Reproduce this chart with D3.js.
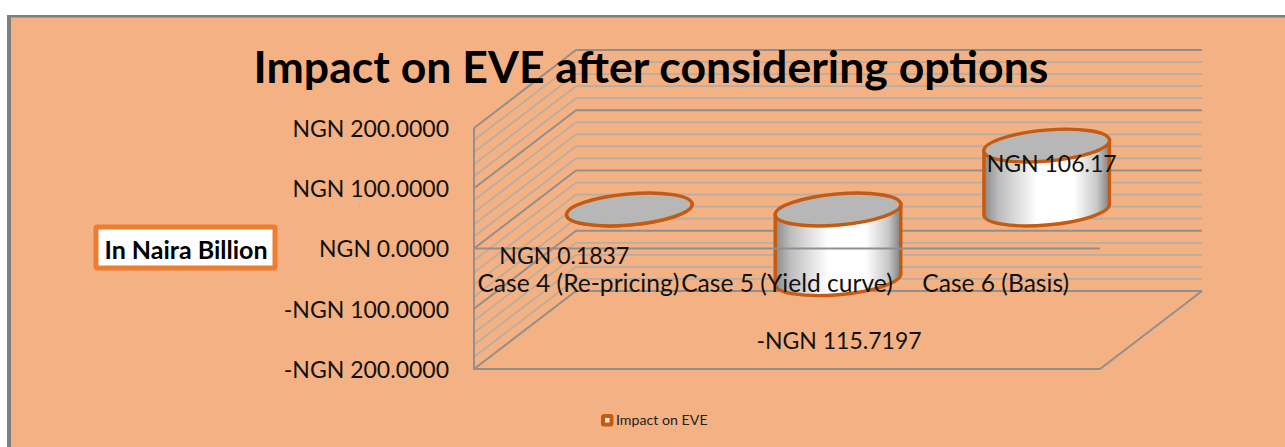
<!DOCTYPE html>
<html>
<head>
<meta charset="utf-8">
<script src="https://cdn.jsdelivr.net/npm/d3@7"></script>
<style>
  html, body { margin: 0; padding: 0; background: #fff; }
  svg { display: block; font-family: Lato, sans-serif; }
  .value-label, .y-axis text { font-size: 23px; fill: #111; font-family: Lato, sans-serif; }
  .x-axis text { font-size: 24.6px; fill: #111; font-family: Lato, sans-serif; }
  .y-axis path, .y-axis line, .x-axis path, .x-axis line { display: none; }
</style>
</head>
<body>
<div id="chart"></div>
<script>
const categories = ["Case 4 (Re-pricing)", "Case 5 (Yield curve)", "Case 6 (Basis)"];
const impactValues = [0.1837, -115.7197, 106.17];
const valueLabels = ["NGN 0.1837", "-NGN 115.7197", "NGN 106.17"];
const yTicks = [200, 100, 0, -100, -200];
const yTickLabels = ["NGN 200.0000", "NGN 100.0000", "NGN 0.0000", "-NGN 100.0000", "-NGN 200.0000"];

const width = 1285;
const height = 447;

// the 3d box: front plane plus a fixed shift to the back wall
const plot = { left: 474, right: 1100, top: 128, bottom: 369 };
const depth = { x: 102, y: -78 };
// hand placed data labels, relative to band centre and zero line
const labelShift = [{ dx: -14, dy: 8 }, { dx: 52, dy: 93 }, { dx: 56, dy: -84 }];

const x = d3.scaleBand().domain(categories).range([plot.left, plot.right]);
const y = d3.scaleLinear().domain([-200, 200]).range([plot.bottom, plot.top]);

const svg = d3.select("#chart").append("svg")
  .attr("width", width)
  .attr("height", height);

svg.append("rect")
  .attr("x", 7).attr("y", 15)
  .attr("width", width).attr("height", height)
  .attr("fill", "#7f7f7f");

svg.append("rect")
  .attr("x", 11).attr("y", 17.5)
  .attr("width", width).attr("height", height)
  .attr("fill", "#f4b183");

const defs = svg.append("defs");
const grad = defs.append("linearGradient").attr("id", "cylSide");
[[0, "#8a8a8a"], [0.12, "#bdbdbd"], [0.42, "#ffffff"], [0.72, "#ffffff"], [0.9, "#c8c8c8"], [1, "#808080"]]
  .forEach(([o, c]) => grad.append("stop").attr("offset", o).attr("stop-color", c));

// gridlines on the left wall and back wall
const gridValues = d3.range(-200, 201, 20);
svg.append("g").selectAll("polyline")
  .data(gridValues)
  .join("polyline")
  .attr("fill", "none")
  .attr("stroke", (d) => d % 100 === 0 ? "#8f8f8f" : "#b8ada2")
  .attr("stroke-width", (d) => d % 100 === 0 ? 1.9 : 1.7)
  .attr("points", (d) => {
    const py = y(d);
    return `${plot.left},${py} ${plot.left + depth.x},${py + depth.y} ${plot.right + depth.x},${py + depth.y}`;
  });

// wall edge and floor
svg.append("path")
  .attr("fill", "none")
  .attr("stroke", "#8f8f8f")
  .attr("stroke-width", 1.9)
  .attr("d", `M${plot.left},${plot.top}V${plot.bottom}H${plot.right}L${plot.right + depth.x},${plot.bottom + depth.y}`);

// cylinders sit half way into the box
const rx = 63;
const ry = 15.5;
const tilt = -5;
const rad = tilt * Math.PI / 180;
const halfW = Math.sqrt(rx * rx * Math.cos(rad) ** 2 + ry * ry * Math.sin(rad) ** 2);
const edgeDy = (rx * rx - ry * ry) * Math.sin(rad) * Math.cos(rad) / halfW;

const bars = categories.map((c, i) => ({
  name: c,
  value: impactValues[i],
  cx: x(c) + x.bandwidth() / 2 + depth.x / 2,
  base: y(0) + depth.y / 2,
  end: y(impactValues[i]) + depth.y / 2
}));

const cyl = svg.append("g").selectAll("g").data(bars).join("g");
const topY = (d) => Math.min(d.base, d.end);
const botY = (d) => Math.max(d.base, d.end);

cyl.append("path")
  .attr("fill", "url(#cylSide)")
  .attr("stroke", "#c55a11")
  .attr("stroke-width", 3.4)
  .attr("d", (d) => {
    const l = d.cx - halfW, r = d.cx + halfW;
    return `M${l},${topY(d) - edgeDy}L${l},${botY(d) - edgeDy}` +
      `A${rx},${ry} ${tilt} 0 0 ${r},${botY(d) + edgeDy}` +
      `L${r},${topY(d) + edgeDy}Z`;
  });

cyl.append("ellipse")
  .attr("rx", rx)
  .attr("ry", ry)
  .attr("transform", (d) => `translate(${d.cx},${topY(d)}) rotate(${tilt})`)
  .attr("fill", "#b7b7b7")
  .attr("stroke", "#c55a11")
  .attr("stroke-width", 3.4);

// zero line runs in front of the cylinders
svg.append("line")
  .attr("x1", plot.left).attr("x2", plot.right)
  .attr("y1", y(0)).attr("y2", y(0))
  .attr("stroke", "#8f8f8f")
  .attr("stroke-width", 1.9);

svg.append("g")
  .attr("class", "y-axis")
  .attr("transform", `translate(${plot.left - 22},1)`)
  .call(d3.axisLeft(y).tickValues(yTicks).tickSize(0)
    .tickFormat((d, i) => yTickLabels[i]));

svg.append("g")
  .attr("class", "x-axis")
  .attr("transform", `translate(0,${y(0)})`)
  .call(d3.axisBottom(x).tickSize(0).tickPadding(26));

svg.append("g").selectAll("text")
  .data(bars)
  .join("text")
  .attr("class", "value-label")
  .attr("x", (d, i) => x(d.name) + x.bandwidth() / 2 + labelShift[i].dx)
  .attr("y", (d, i) => y(0) + labelShift[i].dy)
  .attr("dy", "0.32em")
  .attr("text-anchor", "middle")
  .text((d, i) => valueLabels[i]);

svg.append("text")
  .attr("x", 651)
  .attr("y", 83)
  .attr("text-anchor", "middle")
  .attr("font-size", 44.6)
  .attr("font-weight", 700)
  .attr("fill", "#000")
  .text("Impact on EVE after considering options");

// axis title box
svg.append("rect")
  .attr("x", 96).attr("y", 227)
  .attr("width", 179).attr("height", 41)
  .attr("rx", 1.5)
  .attr("fill", "#fff")
  .attr("stroke", "#ed7d31")
  .attr("stroke-width", 5);

svg.append("text")
  .attr("x", 186)
  .attr("y", 250)
  .attr("dy", "0.35em")
  .attr("text-anchor", "middle")
  .attr("font-size", 25)
  .attr("font-weight", 700)
  .attr("fill", "#000")
  .text("In Naira Billion");

// legend
svg.append("rect")
  .attr("x", 603).attr("y", 416)
  .attr("width", 8.5).attr("height", 8.5)
  .attr("rx", 1)
  .attr("fill", "#f2f2f2")
  .attr("stroke", "#c55a11")
  .attr("stroke-width", 4);

svg.append("text")
  .attr("x", 616)
  .attr("y", 420)
  .attr("dy", "0.35em")
  .attr("font-size", 14.2)
  .attr("fill", "#222")
  .text("Impact on EVE");
</script>
</body>
</html>
